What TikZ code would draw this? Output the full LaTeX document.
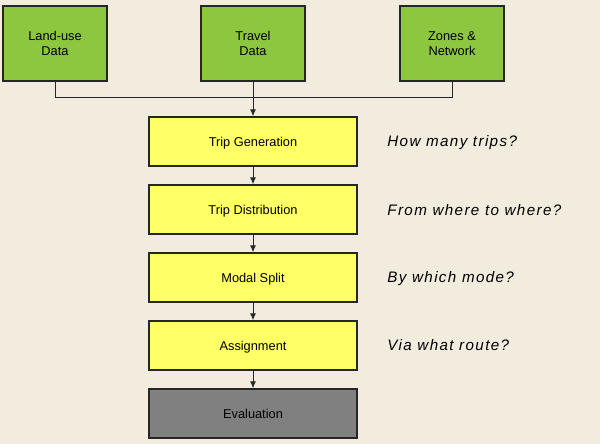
\documentclass[tikz,border=0pt]{standalone}
\usepackage{fontspec}
\setmainfont{Liberation Sans}
\usetikzlibrary{arrows.meta}

\definecolor{bgcol}{HTML}{F2ECDF}
\definecolor{datagreen}{HTML}{8DC63F}
\definecolor{stepyellow}{HTML}{FFFF66}
\definecolor{evalgray}{HTML}{808080}

\begin{document}
\begin{tikzpicture}[x = 0.5pt, y = -0.5pt,
	databox/.style = {draw=black!85, line width=0.7pt, fill=datagreen, minimum width=52pt, minimum height=37.5pt, align=center, font=\fontsize{6.4}{7.8}\selectfont},
	stagebox/.style = {draw=black!85, line width=0.7pt, fill=stepyellow, minimum width=104pt, minimum height=24.5pt, text depth=0pt, font=\fontsize{6.4}{7.8}\selectfont},
	question/.style = {anchor=west, inner sep=0pt, font=\fontsize{7.6}{9}\selectfont\itshape\addfontfeature{LetterSpace=9}},
	link/.style = {line width=0.5pt, black!85},
	flow/.style = {link, -{Latex[length=3.5pt, width=3pt]}}]
	\fill[bgcol] (0,0) rectangle (600,444);
	\useasboundingbox (0,0) rectangle (600,444);

	% input data
	\node[databox] (landuse) at (55,43.5) {Land-use\\Data};
	\node[databox] (travel) at (253,43.5) {Travel\\Data};
	\node[databox] (zones) at (452,43.5) {Zones \&\\Network};

	% four stages
	\node[stagebox] (gen) at (253,141.5) {Trip Generation};
	\node[stagebox] (dist) at (253,209.5) {Trip Distribution};
	\node[stagebox] (modal) at (253,277.5) {Modal Split};
	\node[stagebox] (assign) at (253,345.5) {Assignment};
	\node[stagebox, fill=evalgray] (eval) at (253,413.5) {Evaluation};

	\node[question] (qgen) at (387,143) {How many trips?};
	\node[question] (qdist) at (387,210.5) {From where to where?};
	\node[question] (qmodal) at (387,279) {By which mode?};
	\node[question] (qassign) at (387,345) {Via what route?};

	\coordinate (join) at (253,98);
	\draw[link] (landuse.south) |- (join);
	\draw[link] (zones.south) |- (join);
	\draw[flow] (travel.south) -- (gen.north);
	\draw[flow] (gen) -- (dist);
	\draw[flow] (dist) -- (modal);
	\draw[flow] (modal) -- (assign);
	\draw[flow] (assign) -- (eval);
\end{tikzpicture}
\end{document}
